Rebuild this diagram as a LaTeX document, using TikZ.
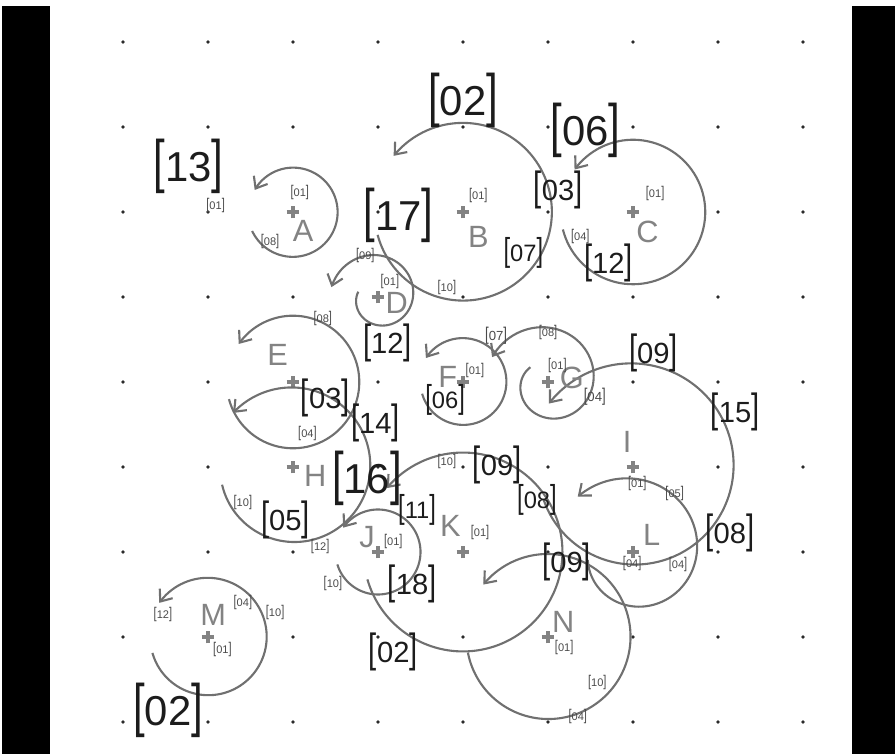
\documentclass[tikz,border=0pt]{standalone}
\usepackage{fontspec}
\setmainfont{Liberation Sans}
\usepackage{tikz}
\usetikzlibrary{arrows.meta,calc}
\definecolor{gridInk}{HTML}{2A2A2A}
\definecolor{swirlInk}{HTML}{707070}
\definecolor{letterInk}{HTML}{838383}
\definecolor{tagInk}{HTML}{1C1C1C}
\definecolor{noteInk}{HTML}{4A4A4A}
\newcommand{\brk}[1]{\scalebox{1}[1.4]{[}#1\scalebox{1}[1.4]{]}}
\newcommand{\swirl}[5]{\draw[swirl,shift={(#1)}] plot[domain=#2:#3,samples=90,smooth] (\x:{#4+(#5-#4)*(\x-#2)/(#3-#2)});}

\begin{document}
\begin{tikzpicture}[x=1.7cm,y=1.7cm,
  swirl/.style={draw=swirlInk,line width=1.2pt,-{Straight Barb[length=2mm,width=3.2mm]}},
  centre/.style={draw=letterInk,line width=1.9pt},
  letter/.style={text=letterInk,inner sep=0pt,font=\fontsize{17.5}{18}\selectfont},
  bigtag/.style={text=tagInk,inner sep=0pt,font=\fontsize{23.8}{24}\selectfont},
  midtag/.style={text=tagInk,inner sep=0pt,font=\fontsize{16.6}{17}\selectfont},
  smalltag/.style={text=tagInk,inner sep=0pt,font=\fontsize{13.5}{14}\selectfont},
  tinytag/.style={text=noteInk,inner sep=0pt,font=\fontsize{6.3}{6.5}\selectfont}
]
\useasboundingbox (-1.4471,0.4941) rectangle (9.0824,-8.3765);
\fill[black] (-1.4235,0.4235) rectangle (-0.8588,-8.3765);
\fill[black] (8.5765,0.4235) rectangle (9.0824,-8.3765);
\foreach \i in {0,...,8}
  \foreach \j in {0,...,8}
    \fill[gridInk] (\i,-\j) circle (1.05pt);
\foreach \n/\x/\y in {A/2/2,B/4/2,C/6/2,D/3/3,E/2/4,F/4/4,G/5/4,H/2/5,I/6/5,J/3/6,K/4/6,L/6/6,M/1/7,N/5/7}{
  \coordinate (c\n) at (\x,-\y);
  \draw[centre] ($(c\n)+(-0.075,0)$) -- ($(c\n)+(0.075,0)$) ($(c\n)+(0,-0.075)$) -- ($(c\n)+(0,0.075)$);
}
\swirl{cA}{205}{510}{0.53}{0.52}
\swirl{cB}{195}{501}{1.04}{1.05}
\swirl{cC}{194}{504}{0.85}{0.85}
\swirl{cD}{165}{528}{0.24}{0.56}
\swirl{cE}{195}{505}{0.78}{0.78}
\swirl{cF}{196}{507}{0.5}{0.52}
\swirl{cG}{140}{516}{0.27}{0.72}
\swirl{cH}{194}{498}{0.86}{0.95}
\swirl{cI}{200}{503}{1.12}{1.24}
\swirl{cJ}{197}{505}{0.5}{0.5}
\swirl{cK}{196}{500}{1.17}{1.17}
\swirl{cL}{190}{495}{0.54}{0.92}
\swirl{cM}{196}{505}{0.68}{0.7}
\swirl{cN}{191}{501}{0.96}{0.98}

\node[letter] (A) at (2.12,-2.22) {A};
\node[letter] (B) at (4.18,-2.29) {B};
\node[letter] (C) at (6.17,-2.24) {C};
\node[letter] (D) at (3.22,-3.07) {D};
\node[letter] (E) at (1.82,-3.68) {E};
\node[letter] (F) at (3.82,-3.94) {F};
\node[letter] (G) at (5.28,-3.95) {G};
\node[letter] (H) at (2.26,-5.11) {H};
\node[letter] (I) at (5.93,-4.71) {I};
\node[letter] (J) at (2.87,-5.82) {J};
\node[letter] (K) at (3.85,-5.69) {K};
\node[letter] (L) at (6.22,-5.80) {L};
\node[letter] (M) at (1.06,-6.74) {M};
\node[letter] (N) at (5.18,-6.82) {N};

\node[bigtag] (t13) at (0.77,-1.46) {\brk{13}};
\node[bigtag] (tB02) at (4.00,-0.69) {\brk{02}};
\node[bigtag] (tC06) at (5.44,-1.04) {\brk{06}};
\node[bigtag] (tB17) at (3.24,-2.04) {\brk{17}};
\node[bigtag] (tH16) at (2.87,-5.13) {\brk{16}};
\node[bigtag] (tM02) at (0.53,-7.86) {\brk{02}};

\node[midtag] (tC03) at (5.12,-1.74) {\brk{03}};
\node[midtag] (tC12) at (5.71,-2.60) {\brk{12}};
\node[midtag] (tD12) at (3.11,-3.54) {\brk{12}};
\node[midtag] (tE03) at (2.38,-4.19) {\brk{03}};
\node[midtag] (tH14) at (2.97,-4.48) {\brk{14}};
\node[midtag] (tI09) at (6.24,-3.66) {\brk{09}};
\node[midtag] (tI15) at (7.20,-4.35) {\brk{15}};
\node[midtag] (tL08) at (7.14,-5.78) {\brk{08}};
\node[midtag] (tN09) at (5.22,-6.12) {\brk{09}};
\node[midtag] (tH05) at (1.91,-5.62) {\brk{05}};
\node[midtag] (tK09) at (4.40,-4.98) {\brk{09}};
\node[midtag] (tJ18) at (3.40,-6.37) {\brk{18}};
\node[midtag] (tK02) at (3.18,-7.18) {\brk{02}};

\node[smalltag] (tB07) at (4.71,-2.48) {\brk{07}};
\node[smalltag] (tF06) at (3.79,-4.21) {\brk{06}};
\node[smalltag] (tJ11) at (3.46,-5.51) {\brk{11}};
\node[smalltag] (tK08) at (4.87,-5.39) {\brk{08}};

\node[tinytag] (n01) at (1.09,-1.92) {\brk{01}};
\node[tinytag] (nA01) at (2.08,-1.77) {\brk{01}};
\node[tinytag] (nA08) at (1.73,-2.35) {\brk{08}};
\node[tinytag] (nB01) at (4.18,-1.80) {\brk{01}};
\node[tinytag] (nB10) at (3.81,-2.89) {\brk{10}};
\node[tinytag] (nC01) at (6.26,-1.78) {\brk{01}};
\node[tinytag] (nC04) at (5.38,-2.29) {\brk{04}};
\node[tinytag] (nD01) at (3.14,-2.82) {\brk{01}};
\node[tinytag] (nD09) at (2.85,-2.51) {\brk{09}};
\node[tinytag] (nE08) at (2.35,-3.25) {\brk{08}};
\node[tinytag] (nE04) at (2.17,-4.60) {\brk{04}};
\node[tinytag] (nF01) at (4.14,-3.86) {\brk{01}};
\node[tinytag,font=\fontsize{7.5}{8}\selectfont] (nF07) at (4.39,-3.45) {\brk{07}};
\node[tinytag] (nG08) at (5.00,-3.42) {\brk{08}};
\node[tinytag] (nG01) at (5.11,-3.81) {\brk{01}};
\node[tinytag,font=\fontsize{7.5}{8}\selectfont] (nG04) at (5.55,-4.17) {\brk{04}};
\node[tinytag] (nI01) at (6.05,-5.19) {\brk{01}};
\node[tinytag] (nI05) at (6.49,-5.31) {\brk{05}};
\node[tinytag] (nL04a) at (5.99,-6.13) {\brk{04}};
\node[tinytag] (nL04b) at (6.53,-6.15) {\brk{04}};
\node[tinytag] (nK10) at (3.81,-4.94) {\brk{10}};
\node[tinytag] (nK01) at (4.20,-5.77) {\brk{01}};
\node[tinytag] (nJ01) at (3.18,-5.88) {\brk{01}};
\node[tinytag] (nJ10) at (2.47,-6.37) {\brk{10}};
\node[tinytag] (nH10) at (1.41,-5.42) {\brk{10}};
\node[tinytag] (nH12) at (2.32,-5.94) {\brk{12}};
\node[tinytag] (nN01) at (5.19,-7.12) {\brk{01}};
\node[tinytag] (nN10) at (5.58,-7.54) {\brk{10}};
\node[tinytag] (nN04) at (5.35,-7.94) {\brk{04}};
\node[tinytag] (nM04) at (1.41,-6.59) {\brk{04}};
\node[tinytag] (nM10) at (1.79,-6.71) {\brk{10}};
\node[tinytag] (nM12) at (0.47,-6.74) {\brk{12}};
\node[tinytag] (nM01) at (1.17,-7.15) {\brk{01}};
\end{tikzpicture}
\end{document}
